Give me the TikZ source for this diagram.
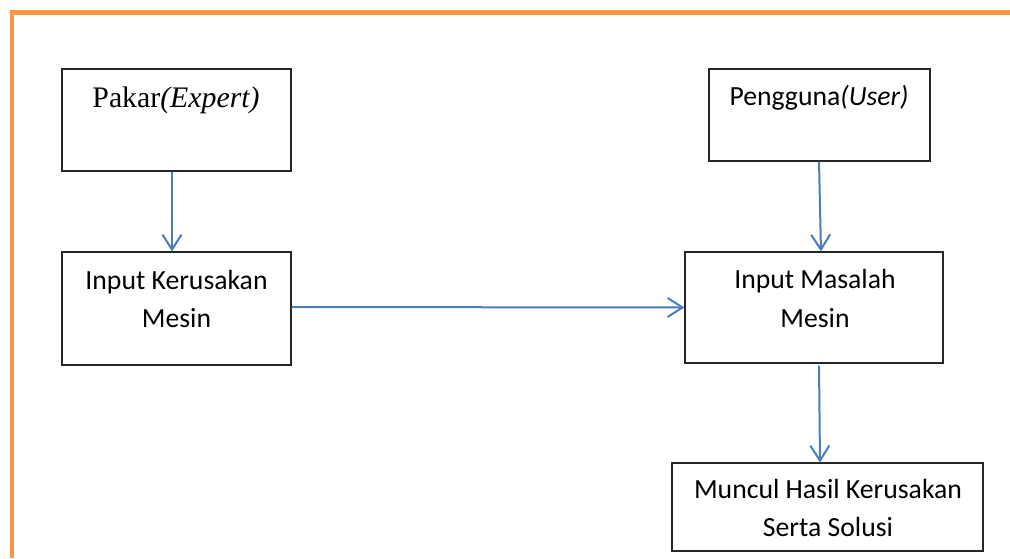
\documentclass[tikz,border=0pt]{standalone}
\usepackage{fontspec}
\setmainfont{Carlito}
\newfontfamily\timesfont{Liberation Serif}
\usetikzlibrary{arrows.meta}

\definecolor{frameorange}{HTML}{F79646}
\definecolor{flowblue}{HTML}{4A7EBB}

\tikzset{
  boxnode/.style={draw=black!85, line width=1.1pt, fill=white, inner sep=0pt},
  linetext/.style={anchor=base, inner sep=0pt, font=\fontsize{27.7}{38}\selectfont},
  sertext/.style={anchor=base, inner sep=0pt, font=\timesfont\fontsize{29.8}{36}\selectfont},
  flow/.style={draw=flowblue, line width=2pt,
    -{Straight Barb[length=15pt, width=19pt, line width=2pt]}},
}

\begin{document}
\begin{tikzpicture}[x=1pt, y=-1pt]
  \useasboundingbox (0,0) rectangle (1010,558);

  % outer frame (top and left edges)
  \draw[frameorange, line width=4.5pt] (1010,12.5) -- (12,12.5) -- (12,558);

  % boxes
  \node[boxnode, minimum width=229pt, minimum height=102pt] (pakar) at (176.5,120) {};
  \node[boxnode, minimum width=221pt, minimum height=92pt]  (user)  at (819.5,115) {};
  \node[boxnode, minimum width=229pt, minimum height=113pt] (ik)    at (176.5,308.5) {};
  \node[boxnode, minimum width=258pt, minimum height=111pt] (im)    at (814,307.5) {};
  \node[boxnode, minimum width=311pt, minimum height=88pt]  (mh)    at (827.5,507) {};

  % box texts
  \node[sertext]  (pakar-t) at (176,107) {Pakar\textit{(Expert)}};
  \node[linetext] (user-t)  at (819,105) {Pengguna\textit{(User)}};
  \node[linetext] (ik-a)    at (176.5,289) {Input Kerusakan};
  \node[linetext] (ik-b)    at (176.5,327) {Mesin};
  \node[linetext] (im-a)    at (815,288) {Input Masalah};
  \node[linetext] (im-b)    at (815,327) {Mesin};
  \node[linetext] (mh-a)    at (828,498.5) {Muncul Hasil Kerusakan};
  \node[linetext] (mh-b)    at (828,536.5) {Serta Solusi};

  % connectors
  \draw[flow] ([xshift=-4.5pt]pakar.south) -- ([xshift=-4.5pt]ik.north);
  \draw[flow] ([xshift=-0.5pt]user.south) -- ([xshift=7pt]im.north);
  \draw[flow] ([yshift=1.5pt]ik.east) -- (im.west);
  \draw[flow, shorten <=2pt] ([xshift=5pt]im.south) -- ([xshift=-7.5pt]mh.north);
\end{tikzpicture}
\end{document}
